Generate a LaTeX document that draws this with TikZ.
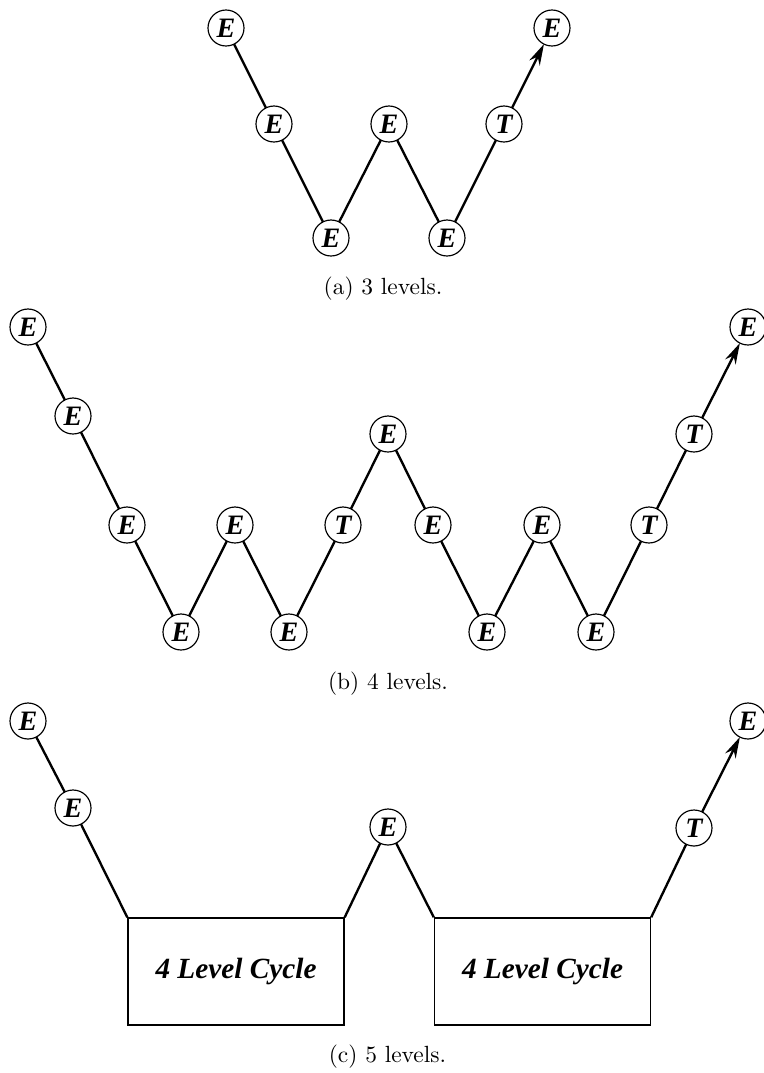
\documentclass[tikz,border=0pt]{standalone}
\usepackage{fontspec}
\usepackage{tikz}
\usepackage{tikz-network}
\usetikzlibrary{arrows.meta}
\newfontfamily\tmsfont{Liberation Serif}
\newcommand{\lblfont}{\tmsfont\fontsize{8}{9}\selectfont\bfseries\itshape}
\newcommand{\boxfont}{\tmsfont\fontsize{12.5}{14}\selectfont\bfseries\itshape}
\tikzset{
  ring/.style={draw=black,line width=0.5pt},
  goal/.style={-{Stealth[length=9pt,width=5pt,inset=3pt]}},
  cyclebox/.style={draw,line width=0.6pt,minimum width=3.24cm,minimum height=1.605cm,inner sep=0pt,font=\boxfont}
}
\begin{document}
\begin{tikzpicture}
\useasboundingbox (0,0) rectangle (11.46,-16.095);

% (a) 3 levels
\Vertex[x=3.39,y=-0.42,label=E,size=0.54,color=white,fontsize=\lblfont,fontscale=1.5,style=ring]{a1}
\Vertex[x=4.11,y=-1.86,label=E,size=0.54,color=white,fontsize=\lblfont,fontscale=1.5,style=ring]{a2}
\Vertex[x=4.965,y=-3.57,label=E,size=0.54,color=white,fontsize=\lblfont,fontscale=1.5,style=ring]{a3}
\Vertex[x=5.835,y=-1.86,label=E,size=0.54,color=white,fontsize=\lblfont,fontscale=1.5,style=ring]{a4}
\Vertex[x=6.705,y=-3.57,label=E,size=0.54,color=white,fontsize=\lblfont,fontscale=1.5,style=ring]{a5}
\Vertex[x=7.56,y=-1.86,label=T,size=0.54,color=white,fontsize=\lblfont,fontscale=1.5,style=ring]{a6}
\Vertex[x=8.28,y=-0.42,label=E,size=0.54,color=white,fontsize=\lblfont,fontscale=1.5,style=ring]{a7}

\Edge[lw=1pt,color=black](a1)(a2)
\Edge[lw=1pt,color=black](a2)(a3)
\Edge[lw=1pt,color=black](a3)(a4)
\Edge[lw=1pt,color=black](a4)(a5)
\Edge[lw=1pt,color=black](a5)(a6)
\Edge[lw=1pt,color=black,style=goal](a6)(a7)

\node[anchor=base] (capa) at (5.745,-4.41) {(a) 3 levels.};

% (b) 4 levels
\Vertex[x=0.42,y=-4.905,label=E,size=0.54,color=white,fontsize=\lblfont,fontscale=1.5,style=ring]{b1}
\Vertex[x=1.095,y=-6.24,label=E,size=0.54,color=white,fontsize=\lblfont,fontscale=1.5,style=ring]{b2}
\Vertex[x=1.905,y=-7.875,label=E,size=0.54,color=white,fontsize=\lblfont,fontscale=1.5,style=ring]{b3}
\Vertex[x=2.715,y=-9.48,label=E,size=0.54,color=white,fontsize=\lblfont,fontscale=1.5,style=ring]{b4}
\Vertex[x=3.525,y=-7.875,label=E,size=0.54,color=white,fontsize=\lblfont,fontscale=1.5,style=ring]{b5}
\Vertex[x=4.335,y=-9.48,label=E,size=0.54,color=white,fontsize=\lblfont,fontscale=1.5,style=ring]{b6}
\Vertex[x=5.145,y=-7.875,label=T,size=0.54,color=white,fontsize=\lblfont,fontscale=1.5,style=ring]{b7}
\Vertex[x=5.82,y=-6.51,label=E,size=0.54,color=white,fontsize=\lblfont,fontscale=1.5,style=ring]{b8}
\Vertex[x=6.495,y=-7.875,label=E,size=0.54,color=white,fontsize=\lblfont,fontscale=1.5,style=ring]{b9}
\Vertex[x=7.305,y=-9.48,label=E,size=0.54,color=white,fontsize=\lblfont,fontscale=1.5,style=ring]{b10}
\Vertex[x=8.13,y=-7.875,label=E,size=0.54,color=white,fontsize=\lblfont,fontscale=1.5,style=ring]{b11}
\Vertex[x=8.94,y=-9.48,label=E,size=0.54,color=white,fontsize=\lblfont,fontscale=1.5,style=ring]{b12}
\Vertex[x=9.735,y=-7.875,label=T,size=0.54,color=white,fontsize=\lblfont,fontscale=1.5,style=ring]{b13}
\Vertex[x=10.41,y=-6.51,label=T,size=0.54,color=white,fontsize=\lblfont,fontscale=1.5,style=ring]{b14}
\Vertex[x=11.22,y=-4.905,label=E,size=0.54,color=white,fontsize=\lblfont,fontscale=1.5,style=ring]{b15}

\Edge[lw=1pt,color=black](b1)(b2)
\Edge[lw=1pt,color=black](b2)(b3)
\Edge[lw=1pt,color=black](b3)(b4)
\Edge[lw=1pt,color=black](b4)(b5)
\Edge[lw=1pt,color=black](b5)(b6)
\Edge[lw=1pt,color=black](b6)(b7)
\Edge[lw=1pt,color=black](b7)(b8)
\Edge[lw=1pt,color=black](b8)(b9)
\Edge[lw=1pt,color=black](b9)(b10)
\Edge[lw=1pt,color=black](b10)(b11)
\Edge[lw=1pt,color=black](b11)(b12)
\Edge[lw=1pt,color=black](b12)(b13)
\Edge[lw=1pt,color=black](b13)(b14)
\Edge[lw=1pt,color=black,style=goal](b14)(b15)

\node[anchor=base] (capb) at (5.82,-10.335) {(b) 4 levels.};

% (c) 5 levels
\Vertex[x=0.42,y=-10.815,label=E,size=0.54,color=white,fontsize=\lblfont,fontscale=1.5,style=ring]{c1}
\Vertex[x=1.095,y=-12.12,label=E,size=0.54,color=white,fontsize=\lblfont,fontscale=1.5,style=ring]{c2}
\Vertex[x=5.82,y=-12.405,label=E,size=0.54,color=white,fontsize=\lblfont,fontscale=1.5,style=ring]{c3}
\Vertex[x=10.41,y=-12.42,label=T,size=0.54,color=white,fontsize=\lblfont,fontscale=1.5,style=ring]{c4}
\Vertex[x=11.22,y=-10.815,label=E,size=0.54,color=white,fontsize=\lblfont,fontscale=1.5,style=ring]{c5}

\node[cyclebox] (cyc1) at (3.54,-14.5725) {4 Level Cycle};
\node[cyclebox] (cyc2) at (8.1375,-14.5725) {4 Level Cycle};

\Edge[lw=1pt,color=black](c1)(c2)
\draw[line width=1pt] (c2) -- (cyc1.north west);
\draw[line width=1pt] (cyc1.north east) -- (c3);
\draw[line width=1pt] (c3) -- (cyc2.north west);
\draw[line width=1pt] (cyc2.north east) -- (c4);
\Edge[lw=1pt,color=black,style=goal](c4)(c5)

\node[anchor=base] (capc) at (5.8125,-15.93) {(c) 5 levels.};

\end{tikzpicture}
\end{document}
